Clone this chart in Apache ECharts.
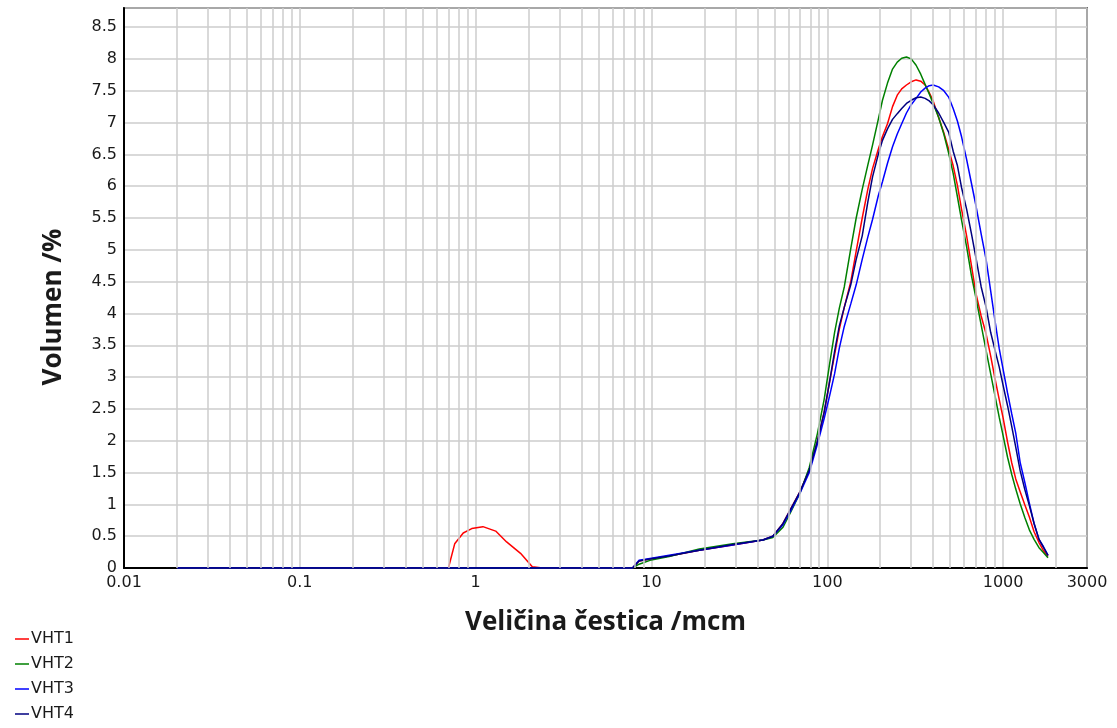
<!DOCTYPE html>
<html>
<head>
<meta charset="utf-8">
<script src="https://cdn.jsdelivr.net/npm/echarts@6/dist/echarts.min.js"></script>
<style>
  html, body { margin: 0; padding: 0; background: #fff; }
  #chart { width: 1117px; height: 728px; }
</style>
</head>
<body>
<div id="chart"></div>
<script>
// particle size (mcm) sample points
const sizes = [0.02, 0.7, 0.76, 0.85, 0.95, 1.1, 1.3, 1.5, 1.8, 2.1, 2.4,
  7.8, 8.5, 9.8, 12.6, 18.7, 29, 43, 49, 56, 62, 70, 79, 88, 96, 103, 110, 117,
  125, 136, 146, 158, 170, 181, 195, 206, 220, 235, 250, 265, 282, 300, 320, 340,
  360, 380, 400, 430, 460, 490, 520, 550, 580, 620, 660, 700, 750, 800, 850, 900,
  950, 1000, 1060, 1120, 1180, 1250, 1330, 1410, 1500, 1600, 1700, 1800];

const vht1 = [0, 0, 0.38, 0.55, 0.62, 0.65, 0.58, 0.41, 0.23, 0.02, 0,
  0, 0.11, 0.14, 0.19, 0.28, 0.36, 0.44, 0.50, 0.70, 0.93, 1.20, 1.54, 2.00, 2.45, 2.92, 3.35, 3.75,
  4.10, 4.50, 4.98, 5.50, 5.95, 6.28, 6.58, 6.78, 6.98, 7.25, 7.43, 7.53, 7.59, 7.64, 7.67, 7.65,
  7.59, 7.47, 7.34, 7.08, 6.84, 6.58, 6.32, 6.01, 5.64, 5.22, 4.76, 4.32, 3.96, 3.68, 3.33, 2.97,
  2.65, 2.36, 1.98, 1.65, 1.40, 1.20, 0.99, 0.80, 0.57, 0.40, 0.27, 0.18];

const vht2 = [0, 0, 0, 0, 0, 0, 0, 0, 0, 0, 0,
  0, 0.06, 0.12, 0.18, 0.30, 0.38, 0.44, 0.48, 0.64, 0.88, 1.18, 1.58, 2.12, 2.65, 3.20, 3.70, 4.08,
  4.42, 5.02, 5.50, 5.95, 6.33, 6.65, 7.05, 7.35, 7.62, 7.84, 7.95, 8.01, 8.03, 8.00, 7.90, 7.76,
  7.60, 7.45, 7.30, 7.08, 6.82, 6.52, 6.20, 5.83, 5.47, 5.05, 4.60, 4.25, 3.82, 3.42, 3.05, 2.70,
  2.37, 2.08, 1.74, 1.47, 1.24, 1.01, 0.79, 0.60, 0.45, 0.32, 0.24, 0.16];

const vht3 = [0, 0, 0, 0, 0, 0, 0, 0, 0, 0, 0,
  0, 0.12, 0.15, 0.20, 0.28, 0.36, 0.44, 0.50, 0.68, 0.90, 1.18, 1.50, 1.95, 2.35, 2.70, 3.05, 3.45,
  3.80, 4.15, 4.45, 4.85, 5.20, 5.48, 5.85, 6.07, 6.36, 6.62, 6.82, 6.98, 7.15, 7.28, 7.38, 7.48,
  7.54, 7.58, 7.59, 7.56, 7.50, 7.40, 7.22, 7.02, 6.78, 6.42, 6.05, 5.70, 5.25, 4.85, 4.35, 3.88,
  3.45, 3.12, 2.75, 2.42, 2.12, 1.66, 1.34, 1.02, 0.70, 0.45, 0.33, 0.20];

const vht4 = [0, 0, 0, 0, 0, 0, 0, 0, 0, 0, 0,
  0, 0.11, 0.14, 0.19, 0.28, 0.37, 0.44, 0.50, 0.70, 0.93, 1.20, 1.54, 2.00, 2.45, 2.92, 3.40, 3.80,
  4.10, 4.45, 4.85, 5.22, 5.75, 6.15, 6.50, 6.72, 6.90, 7.05, 7.14, 7.22, 7.30, 7.35, 7.39, 7.40,
  7.38, 7.34, 7.28, 7.15, 7.00, 6.85, 6.55, 6.32, 5.98, 5.64, 5.26, 4.88, 4.42, 4.10, 3.70, 3.42,
  3.16, 2.87, 2.55, 2.22, 1.90, 1.53, 1.23, 0.98, 0.70, 0.45, 0.32, 0.20];

const seriesNames = ['VHT1', 'VHT2', 'VHT3', 'VHT4'];
const seriesColors = ['#ff0000', '#008000', '#0000ff', '#000080'];

// minor log grid lines (2..9 in every decade)
const minorGrid = [
  0.02, 0.03, 0.04, 0.05, 0.06, 0.07, 0.08, 0.09,
  0.2, 0.3, 0.4, 0.5, 0.6, 0.7, 0.8, 0.9,
  2, 3, 4, 5, 6, 7, 8, 9,
  20, 30, 40, 50, 60, 70, 80, 90,
  200, 300, 400, 500, 600, 700, 800, 900,
  2000];

const gridColor = '#cccccc';
const textFont = 'DejaVu Sans';
const titleFont = 'Open Sans';

const chart = echarts.init(document.getElementById('chart'));

const lineSeries = [vht1, vht2, vht3, vht4].map((vals, i) => ({
  name: seriesNames[i],
  type: 'line',
  symbol: 'none',
  z: 3,
  color: seriesColors[i],
  lineStyle: { width: 1.5, color: seriesColors[i] },
  data: sizes.map((s, k) => [s, vals[k]])
}));

chart.setOption({
  animation: false,
  backgroundColor: '#fff',
  grid: {
    left: 124, top: 8, right: 30, bottom: 160,
    show: true, borderColor: '#000', borderWidth: 1.5
  },
  legend: {
    data: seriesNames,
    orient: 'vertical',
    left: 10, top: 626,
    height: 102,
    icon: 'rect',
    itemWidth: 14, itemHeight: 1.5, itemGap: 9,
    textStyle: { fontFamily: textFont, fontSize: 16, lineHeight: 14, color: '#1a1a1a', padding: [0, 0, 0, -3] }
  },
  xAxis: {
    type: 'log',
    logBase: 10,
    min: 0.01,
    max: 3000,
    name: 'Veličina čestica /mcm',
    nameLocation: 'middle',
    nameGap: 42,
    nameTextStyle: { fontFamily: titleFont, fontWeight: 'bold', fontSize: 26, color: '#1a1a1a' },
    axisLine: { lineStyle: { color: '#000', width: 2 } },
    axisTick: { show: false },
    axisLabel: {
      margin: 7,
      fontFamily: textFont, fontSize: 16, color: '#1a1a1a',
      formatter: v => String(+v.toPrecision(6))
    },
    splitLine: { show: true, lineStyle: { color: gridColor, width: 1.5 } }
  },
  yAxis: {
    type: 'value',
    min: 0,
    max: 8.8,
    interval: 0.5,
    name: 'Volumen /%',
    nameLocation: 'middle',
    nameGap: 57,
    nameTextStyle: { fontFamily: titleFont, fontWeight: 'bold', fontSize: 26, color: '#1a1a1a', padding: [0, 38, 0, 0] },
    axisLine: { show: true, lineStyle: { color: '#000', width: 2 } },
    axisTick: { show: false },
    axisLabel: {
      margin: 7,
      fontFamily: textFont, fontSize: 16, color: '#1a1a1a',
      formatter: v => (v > 8.6 ? '' : String(+v.toFixed(1)))
    },
    splitLine: { show: true, lineStyle: { color: gridColor, width: 1.5 } }
  },
  series: [{
    name: 'grid',
    type: 'line',
    data: [],
    z: 1,
    silent: true,
    markLine: {
      silent: true,
      symbol: 'none',
      label: { show: false },
      lineStyle: { color: gridColor, width: 1.5, type: 'solid' },
      data: minorGrid.map(v => ({ xAxis: v }))
    }
  }].concat(lineSeries)
});
</script>
</body>
</html>
